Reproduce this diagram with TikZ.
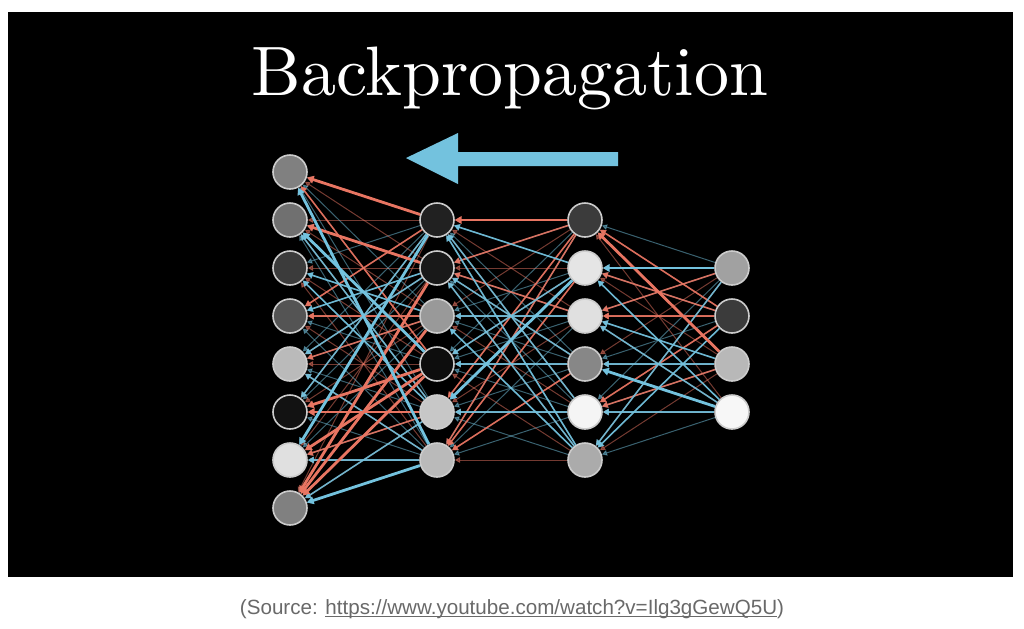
\documentclass[tikz,border=0pt]{standalone}
\usepackage{fontspec}
\newfontfamily\capfont{Liberation Sans}
\newfontfamily\titlefont[Extension=.otf]{lmroman10-regular}
\usetikzlibrary{arrows.meta}

\definecolor{gred}{RGB}{232,117,98}
\definecolor{gblue}{RGB}{115,194,222}
\definecolor{capgray}{RGB}{105,105,105}

\tikzset{
  neuron/.style={circle, draw=black!20, line width=0.8pt, minimum size=17pt, inner sep=0pt},
  faint/.style={line width=0.5pt, opacity=0.5, -{Triangle[length=2.6pt,width=2.8pt]}},
  R/.style={draw=gred, line width=1.4pt, -{Triangle[length=3.4pt,width=3.8pt]}},
  r/.style={draw=gred, line width=0.8pt, opacity=0.9, -{Triangle[length=3pt,width=3.2pt]}},
  B/.style={draw=gblue, line width=1.4pt, -{Triangle[length=3.4pt,width=3.8pt]}},
  b/.style={draw=gblue, line width=0.8pt, opacity=0.9, -{Triangle[length=3pt,width=3.2pt]}},
}

\begin{document}
\begin{tikzpicture}[x=0.5pt, y=-0.5pt]
   % frame
   \useasboundingbox (0,0) rectangle (1024,628);
   \fill[white] (0,0) rectangle (1024,628);
   \fill[black] (8,12) rectangle (1013,577);

   % title and arrow
   \node[text=white, anchor=base, font=\titlefont\fontsize{35}{42}\selectfont] (title) at (510,95) {Backpropagation};
   \fill[gblue] (406,158) -- (458,133) -- (458,152) -- (618,152) -- (618,166)
                -- (458,166) -- (458,184) -- cycle;

   % neurons
   \foreach \f [count=\i] in {50,56,77,67,27,93,12,50}
     \node[neuron, fill=black!\f] (a\i) at (290,124+48*\i) {};
   \foreach \f [count=\i] in {87,90,40,95,22,27}
     \node[neuron, fill=black!\f] (b\i) at (437,172+48*\i) {};
   \foreach \f [count=\i] in {77,10,12,47,4,33}
     \node[neuron, fill=black!\f] (c\i) at (585,172+48*\i) {};
   \foreach \f [count=\i] in {37,77,28,3}
     \node[neuron, fill=black!\f] (d\i) at (732,220+48*\i) {};

   % all weights, faint
   \foreach \i in {1,...,6}
     \foreach \j in {1,...,8} {
       \ifodd\numexpr\i+\j\relax \def\col{gred}\else\def\col{gblue}\fi
       \draw[faint, draw=\col] (b\i) -- (a\j);
     }
   \foreach \i in {1,...,6}
     \foreach \j in {1,...,6} {
       \ifodd\numexpr\i+\j\relax \def\col{gblue}\else\def\col{gred}\fi
       \draw[faint, draw=\col] (c\i) -- (b\j);
     }
   \foreach \i in {1,...,4}
     \foreach \j in {1,...,6} {
       \ifodd\numexpr\i+\j\relax \def\col{gred}\else\def\col{gblue}\fi
       \draw[faint, draw=\col] (d\i) -- (c\j);
     }

   % nudges, second to first layer
   \foreach \s/\t/\w in {b4/a1/r, b1/a4/r, b3/a5/r, b5/a7/r, b3/a4/r,
                         b2/a4/b, b5/a8/b, b1/a6/b, b6/a7/b, b3/a3/b, b5/a2/b,
                         b5/a3/b, b2/a5/b, b6/a5/b,
                         b1/a1/R, b2/a2/R, b4/a6/R, b4/a7/R, b5/a6/R,
                         b2/a8/R, b3/a8/R, b4/a8/R,
                         b6/a1/B, b4/a2/B, b1/a7/B, b6/a8/B}
     \draw[\w] (\s) -- (\t);

   % third to second layer
   \foreach \s/\t/\w in {c1/b2/r, c3/b2/r, c4/b6/r, c1/b5/r, c1/b6/r, c2/b6/r,
                         c2/b1/b, c3/b3/b, c5/b5/b, c6/b1/b, c5/b1/b, c2/b4/b,
                         c4/b2/b, c6/b3/b, c4/b4/b, c6/b2/b,
                         c1/b1/R, c2/b5/B}
     \draw[\w] (\s) -- (\t);

   % output to third layer
   \foreach \s/\t/\w in {d2/c3/r, d1/c3/r, d2/c5/r, d3/c5/r, d2/c2/r, d2/c1/r,
                         d3/c3/b, d3/c4/b, d4/c5/b, d1/c6/b, d2/c6/b, d4/c2/b, d4/c3/b,
                         d3/c1/R, d1/c2/B, d4/c4/B}
     \draw[\w] (\s) -- (\t);

   % source
   \node[text=capgray, anchor=base, font=\capfont\fontsize{10.3}{12}\selectfont] (source) at (512,614)
     {(Source: \underline{\smash{https://www.youtube.com/watch?v=Ilg3gGewQ5U}})};
\end{tikzpicture}
\end{document}
